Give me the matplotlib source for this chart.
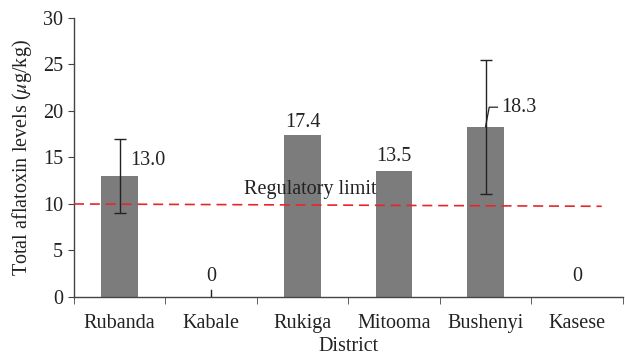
import numpy as np
import matplotlib
matplotlib.use("Agg")
import matplotlib.pyplot as plt

# data
districts = ["Rubanda", "Kabale", "Rukiga", "Mitooma", "Bushenyi", "Kasese"]
levels = [13.0, 0.0, 17.4, 13.5, 18.3, 0.0]
errors = [4.0, 0.0, 0.0, 0.0, 7.2, 0.0]
labels = ["13.0", "0", "17.4", "13.5", "18.3", "0"]
limit_start = 10.0
limit_end = 9.75

plt.rcParams["font.family"] = ["Liberation Serif", "DejaVu Serif"]
plt.rcParams["mathtext.fontset"] = "stix"
fs = 14.5

fig = plt.figure(figsize=(6.25, 3.57), dpi=100)
ax = fig.add_axes([0.1184, 0.168, 0.878, 0.782])

x = np.arange(len(districts))
ax.bar(x, levels, width=0.4, color="#7b7c7b", zorder=2)

# error bars only where present
err_idx = [i for i, e in enumerate(errors) if e > 0]
ax.errorbar(x[err_idx], [levels[i] for i in err_idx],
            yerr=[errors[i] for i in err_idx], fmt="none",
            ecolor="#222222", elinewidth=1.0, capsize=4, capthick=1.0, zorder=3)
# tiny stub on the Kabale zero bar
ax.plot([1, 1], [0, 0.8], color="#222222", lw=1.0, zorder=3)

# value labels
offsets = {0: (0.31, 1.7), 1: (0, 2.2), 2: (0, 1.4), 3: (0, 1.6), 5: (0, 2.2)}
for i, lab in enumerate(labels):
    if i == 4:
        continue
    dx, dy = offsets[i]
    ax.text(x[i] + dx, levels[i] + dy, lab, ha="center", va="center",
            fontsize=fs, color="#222222")
# Bushenyi label with leader line
ax.plot([x[4], x[4] + 0.04, x[4] + 0.13], [levels[4], levels[4] + 2.1, levels[4] + 2.1],
        color="#222222", lw=0.9, zorder=3)
ax.text(x[4] + 0.17, levels[4] + 2.1, labels[4], ha="left", va="center",
        fontsize=fs, color="#222222")

# regulatory limit
ax.plot([-0.5, 5.27], [limit_start, limit_end], color="#e8262a", lw=1.2,
        dashes=(6, 3.5), zorder=4)
ax.text(2.08, 11.6, "Regulatory limit", ha="center", va="center",
        fontsize=fs, color="#222222")

ax.set_xlim(-0.5, 5.5)
ax.set_ylim(0, 30)
ax.set_yticks(np.arange(0, 31, 5))
ax.set_xticks(x)
ax.set_xticklabels(districts)
ax.set_xticks(np.arange(-0.5, 6.0, 1.0), minor=True)
ax.tick_params(axis="x", which="major", length=0, pad=12, labelsize=fs, colors="#222222")
ax.tick_params(axis="x", which="minor", length=5, color="#444444", direction="out")
ax.tick_params(axis="y", length=4, color="#444444", labelsize=fs, labelcolor="#222222", pad=4)

for s in ["top", "right"]:
    ax.spines[s].set_visible(False)
for s in ["left", "bottom"]:
    ax.spines[s].set_color("#444444")
    ax.spines[s].set_linewidth(1.0)

ax.set_xlabel("District", fontsize=fs, color="#222222", labelpad=3)
ax.set_ylabel(r"Total aflatoxin levels ($\mu$g/kg)", fontsize=fs,
              color="#222222", labelpad=6)

fig.savefig("out.png", dpi=100)
